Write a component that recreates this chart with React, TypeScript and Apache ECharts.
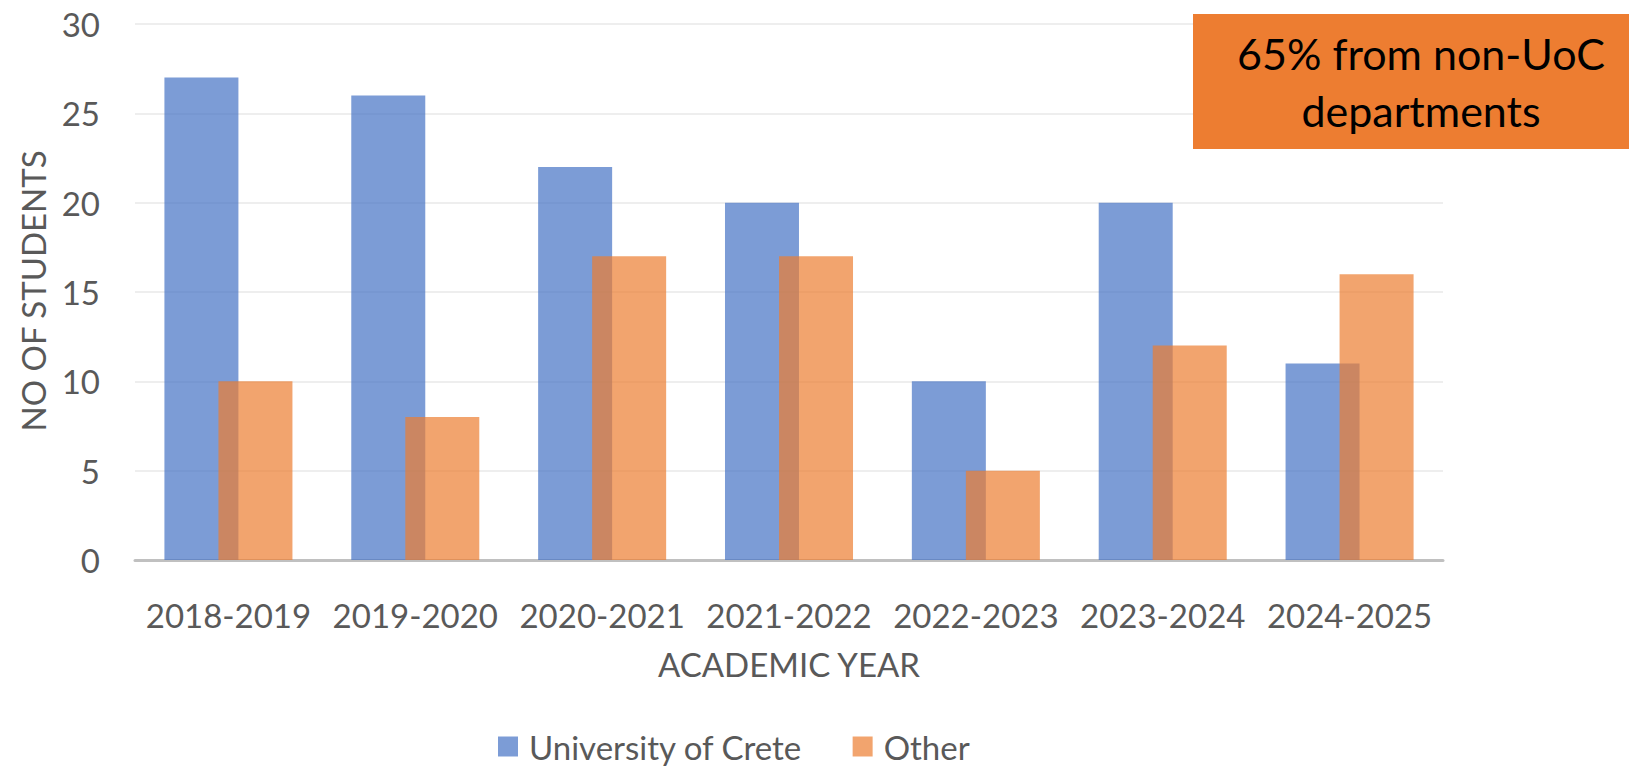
import React, { useEffect, useRef } from "react";
import * as echarts from "echarts";

const categories = ["2018-2019", "2019-2020", "2020-2021", "2021-2022", "2022-2023", "2023-2024", "2024-2025"];
const uocValues = [27, 26, 22, 20, 10, 20, 11];
const otherValues = [10, 8, 17, 17, 5, 12, 16];
const seriesNames = ["University of Crete", "Other"];
const yTicks = { min: 0, max: 30, interval: 5 };
const xAxisName = "ACADEMIC YEAR";
const yAxisName = "NO OF STUDENTS";
const noteText = "65% from non-UoC\ndepartments";

const FONT = "Lato, 'Open Sans', sans-serif";
const TXT = "#595959";

export default function App() {
  const ref = useRef<HTMLDivElement>(null);
  useEffect(() => {
    if (!ref.current) return;
    const chart = echarts.init(ref.current, null, { renderer: "svg" });
    chart.setOption({
      animation: false,
      textStyle: { fontFamily: FONT },
      grid: { left: 135, right: 186, top: 24, bottom: 209, containLabel: false },
      xAxis: {
        type: "category",
        data: categories,
        axisLine: { show: true, lineStyle: { color: "#c0c0c0", width: 3 } },
        axisTick: { show: false },
        axisLabel: { color: TXT, fontSize: 33, fontFamily: FONT, margin: 38, interval: 0 },
        name: xAxisName,
        nameLocation: "middle",
        nameGap: 87,
        nameTextStyle: { color: TXT, fontSize: 33, fontFamily: FONT },
      },
      yAxis: {
        type: "value",
        min: yTicks.min,
        max: yTicks.max,
        interval: yTicks.interval,
        axisLine: { show: false },
        axisTick: { show: false },
        splitLine: { lineStyle: { color: "#eeeeee", width: 2 } },
        axisLabel: { color: TXT, fontSize: 33, fontFamily: FONT, margin: 35 },
      },
      legend: {
        data: seriesNames,
        left: 493,
        top: 725,
        itemWidth: 20,
        itemHeight: 20,
        itemGap: 50,
        icon: "rect",
        textStyle: { color: TXT, fontSize: 33, fontFamily: FONT, padding: [0, 0, 0, 6] },
      },
      series: [
        {
          name: seriesNames[0],
          type: "bar",
          data: uocValues,
          barWidth: 74,
          barGap: "-27%",
          itemStyle: { color: "#4472C4", opacity: 0.7 },
        },
        {
          name: seriesNames[1],
          type: "bar",
          data: otherValues,
          barWidth: 74,
          itemStyle: { color: "#ED7D31", opacity: 0.7 },
        },
      ],
      graphic: [
        {
          type: "text",
          x: 33,
          y: 291,
          rotation: Math.PI / 2,
          style: {
            text: yAxisName,
            fill: TXT,
            fontSize: 33,
            fontFamily: FONT,
            textAlign: "center",
            textVerticalAlign: "middle",
          },
        },
        {
          type: "rect",
          z: 100,
          shape: { x: 1193, y: 14, width: 436, height: 135 },
          style: { fill: "#ED7D31" },
        },
        {
          type: "text",
          z: 101,
          x: 1421,
          y: 82,
          style: {
            text: noteText,
            fill: "#000000",
            fontSize: 43,
            lineHeight: 57,
            fontFamily: FONT,
            textAlign: "center",
            textVerticalAlign: "middle",
          },
        },
      ],
    });
    return () => chart.dispose();
  }, []);
  return (
    <div
      ref={ref}
      style={{ position: "fixed", left: 0, top: 0, width: 1629, height: 769, background: "#fff" }}
    />
  );
}
